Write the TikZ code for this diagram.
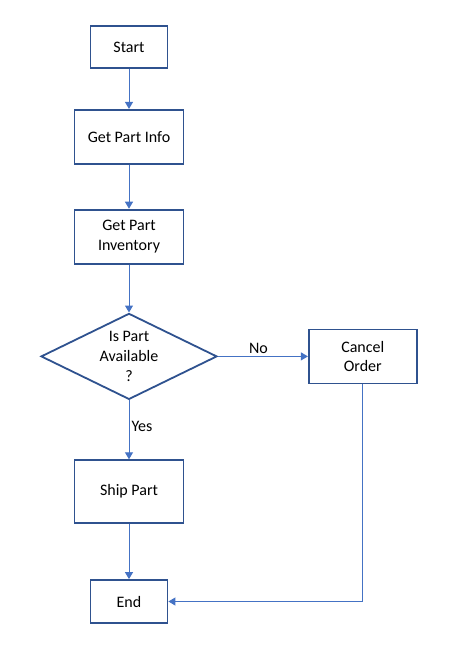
\documentclass[tikz,border=0pt]{standalone}
\usepackage{fontspec}
\setmainfont{Carlito}
\usetikzlibrary{shapes.geometric, arrows.meta, positioning}
\definecolor{fcbg}{HTML}{FFFFFF}
\definecolor{fctext}{HTML}{000000}
\definecolor{fcedge}{HTML}{2F528F}
\definecolor{fcline}{HTML}{4472C4}
\tikzset{
  stepbox/.style={rectangle, draw=fcedge, line width=1.8pt, fill=fcbg,
              text=fctext, font=\fontsize{16}{19.5}\selectfont, align=center, inner sep=2pt},
  decide/.style={diamond, aspect=2, draw=fcedge, line width=1.8pt, fill=fcbg,
              text=fctext, font=\fontsize{16}{20}\selectfont, align=center, inner sep=-6pt,
              minimum width=176pt, minimum height=86pt},
  flow/.style={-{Triangle[length=7pt, width=8pt]}, draw=fcline, line width=1pt},
  lbl/.style={font=\fontsize{16}{19.5}\selectfont, text=fctext, inner sep=2pt},
}
\begin{document}
\begin{tikzpicture}[x=1pt, y=1pt]
    \useasboundingbox[fill=fcbg] (0,0) rectangle (454,-657);
    \node[stepbox, minimum width=77pt, minimum height=42pt] (start) at (129,-47) {Start};
    \node[stepbox, below=40pt of start, minimum width=109pt, minimum height=54pt] (info) {Get Part Info};
    \node[stepbox, below=44pt of info, minimum width=109pt, minimum height=54pt] (inventory) {Get Part\\Inventory};
    \node[decide, below=48pt of inventory] (avail) {Is Part\\Available\\?};
    \node[stepbox, right=90pt of avail, minimum width=108pt, minimum height=54pt] (cancel) {Cancel\\Order};
    \node[stepbox, below=59pt of avail, minimum width=109pt, minimum height=63pt] (ship) {Ship Part};
    \node[stepbox, below=55pt of ship, minimum width=77pt, minimum height=43pt] (finish) {End};
    \draw[flow] (start) -- (info);
    \draw[flow] (info) -- (inventory);
    \draw[flow] (inventory) -- (avail);
    \draw[flow] (avail) -- node[lbl, above, pos=0.45]{No} (cancel);
    \draw[flow] (avail) -- node[lbl, right, pos=0.45]{Yes} (ship);
    \draw[flow] (ship) -- (finish);
    \draw[flow] (cancel) |- (finish);
  \end{tikzpicture}
\end{document}
